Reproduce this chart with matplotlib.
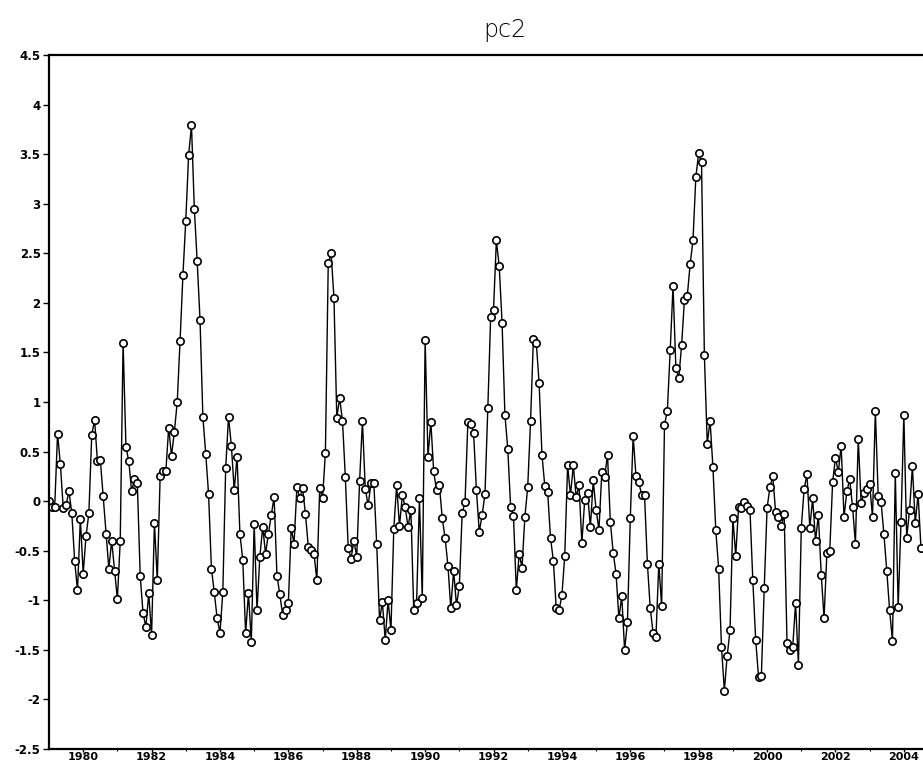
import numpy as np
import matplotlib
matplotlib.use("Agg")
import matplotlib.pyplot as plt

# ---- data: monthly pc2 values, Jan 1979 onward ----
y1979 = [0.00, -0.06, -0.06, 0.68, 0.37, -0.07, -0.04, 0.10, -0.12, -0.60, -0.90, -0.18]
y1980 = [-0.73, -0.35, -0.12, 0.67, 0.82, 0.40, 0.42, 0.05, -0.33, -0.68, -0.40, -0.70]
y1981 = [-0.99, -0.40, 1.60, 0.55, 0.40, 0.10, 0.22, 0.18, -0.75, -1.13, -1.27, -0.93]
y1982 = [-1.35, -0.22, -0.80, 0.25, 0.30, 0.30, 0.74, 0.46, 0.70, 1.00, 1.62, 2.28]
y1983 = [2.83, 3.49, 3.79, 2.95, 2.42, 1.83, 0.85, 0.48, 0.07, -0.68, -0.92, -1.18]
y1984 = [-1.33, -0.92, 0.33, 0.85, 0.56, 0.11, 0.45, -0.33, -0.59, -1.33, -0.93, -1.42]
y1985 = [-0.23, -1.10, -0.56, -0.26, -0.53, -0.33, -0.14, 0.04, -0.75, -0.94, -1.15, -1.10]
y1986 = [-1.03, -0.27, -0.43, 0.14, 0.03, 0.13, -0.13, -0.46, -0.49, -0.53, -0.80, 0.13]
y1987 = [0.03, 0.49, 2.40, 2.50, 2.05, 0.84, 1.04, 0.81, 0.24, -0.47, -0.58, -0.40]
y1988 = [-0.56, 0.20, 0.81, 0.12, -0.04, 0.18, 0.18, -0.43, -1.20, -1.02, -1.40, -1.00]
y1989 = [-1.30, -0.28, 0.16, -0.25, 0.06, -0.06, -0.26, -0.09, -1.10, -1.03, 0.03, -0.98]
y1990 = [1.63, 0.45, 0.80, 0.30, 0.11, 0.16, -0.17, -0.37, -0.65, -1.08, -0.70, -1.05]
y1991 = [-0.86, -0.12, -0.01, 0.80, 0.78, 0.69, 0.11, -0.31, -0.14, 0.07, 0.94, 1.86]
y1992 = [1.93, 2.63, 2.37, 1.80, 0.87, 0.53, -0.06, -0.15, -0.90, -0.53, -0.67, -0.16]
y1993 = [0.14, 0.81, 1.64, 1.60, 1.19, 0.47, 0.15, 0.09, -0.37, -0.60, -1.08, -1.10]
y1994 = [-0.95, -0.55, 0.36, 0.06, 0.36, 0.04, 0.16, -0.42, 0.01, 0.08, -0.26, 0.21]
y1995 = [-0.09, -0.29, 0.29, 0.24, 0.47, -0.21, -0.52, -0.73, -1.18, -0.96, -1.50, -1.22]
y1996 = [-0.17, 0.66, 0.25, 0.19, 0.06, 0.06, -0.63, -1.08, -1.33, -1.37, -0.63, -1.06]
y1997 = [0.77, 0.91, 1.52, 2.17, 1.34, 1.24, 1.57, 2.03, 2.07, 2.39, 2.63, 3.27]
y1998 = [3.51, 3.42, 1.47, 0.58, 0.81, 0.34, -0.29, -0.68, -1.47, -1.91, -1.56, -1.30]
y1999 = [-0.17, -0.55, -0.06, -0.07, -0.01, -0.05, -0.09, -0.80, -1.40, -1.77, -1.76, -0.88]
y2000 = [-0.07, 0.14, 0.25, -0.11, -0.16, -0.25, -0.13, -1.43, -1.50, -1.47, -1.03, -1.65]
y2001 = [-0.27, 0.12, 0.27, -0.27, 0.03, -0.40, -0.14, -0.74, -1.18, -0.52, -0.50, 0.19]
y2002 = [0.44, 0.29, 0.56, -0.16, 0.10, 0.22, -0.06, -0.43, 0.63, -0.02, 0.08, 0.12]
y2003 = [0.17, -0.16, 0.91, 0.05, -0.01, -0.33, -0.70, -1.10, -1.41, 0.28, -1.07, -0.21]
y2004 = [0.87, -0.37, -0.09, 0.35, -0.22, 0.07, -0.47]

start_year = 1979
pc2 = (y1979 + y1980 + y1981 + y1982 + y1983 + y1984 + y1985 + y1986 + y1987 +
       y1988 + y1989 + y1990 + y1991 + y1992 + y1993 + y1994 + y1995 + y1996 +
       y1997 + y1998 + y1999 + y2000 + y2001 + y2002 + y2003 + y2004)

xtick_years = list(range(1980, 2005, 2))
ytick_values = [4.5, 4, 3.5, 3, 2.5, 2, 1.5, 1, 0.5, 0, -0.5, -1, -1.5, -2, -2.5]
ytick_labels = ["4.5", "4", "3.5", "3", "2.5", "2", "1.5", "1", "0.5", "0",
                "-0.5", "-1", "-1.5", "-2", "-2.5"]
title = "pc2"

# ---- figure ----
W, H = 923, 767
fig = plt.figure(figsize=(W / 100, H / 100), dpi=100)
ax = fig.add_axes([49 / W, 18 / H, (W - 49) / W, (749 - 55) / H])

t = start_year + np.arange(len(pc2)) / 12.0
ax.plot(t, pc2, color="black", lw=1.0, marker="o", ms=5.3,
        mfc="white", mec="black", mew=1.2)

ax.set_xlim(start_year, 2004.56)
ax.set_ylim(-2.5, 4.5)

ax.spines["right"].set_visible(False)
for s in ("left", "top", "bottom"):
    ax.spines[s].set_linewidth(1.6)
    ax.spines[s].set_color("black")

ax.set_xticks(xtick_years)
ax.set_xticklabels([str(y) for y in xtick_years])
ax.set_xticks(list(range(1980, 2005)), minor=True)
ax.set_yticks(ytick_values)
ax.set_yticklabels(ytick_labels)

ax.tick_params(axis="y", which="major", direction="out", length=4, width=1,
               labelsize=8.5, pad=2)
ax.tick_params(axis="x", which="major", direction="out", length=2, width=1,
               labelsize=8, pad=0.5)
ax.tick_params(axis="x", which="minor", direction="out", length=1.5, width=0.8)
for lab in ax.get_xticklabels() + ax.get_yticklabels():
    lab.set_fontweight("bold")

fig.text(505 / W, 1 - 30 / H, title, ha="center", va="center",
         fontsize=17, color="black", fontweight="light")

fig.savefig("out.png", dpi=100)
